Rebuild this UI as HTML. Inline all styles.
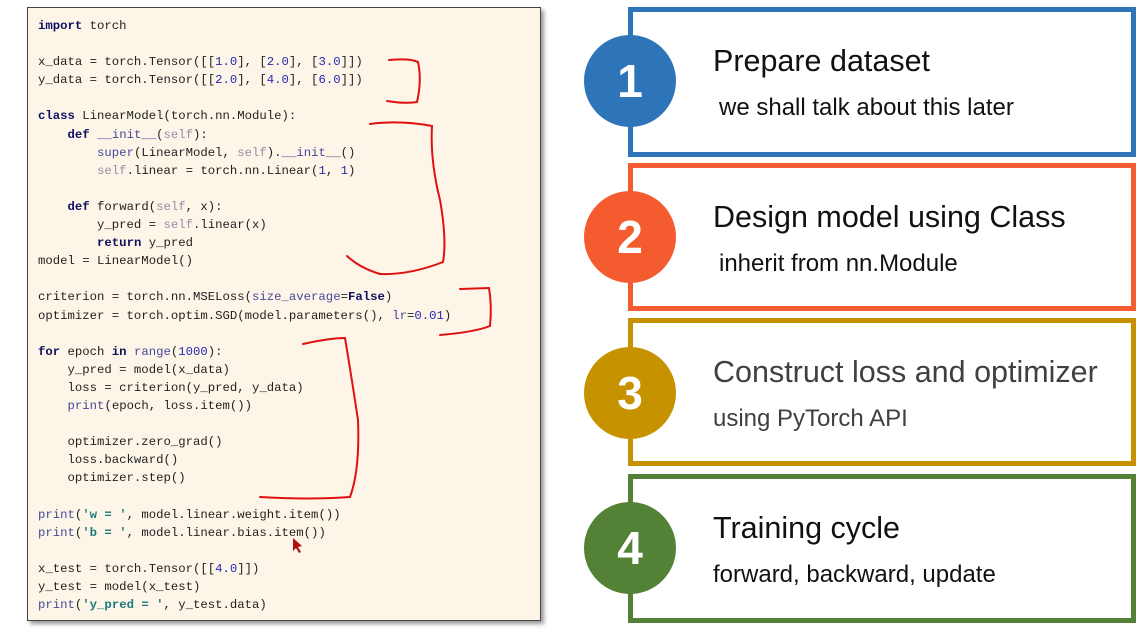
<!DOCTYPE html>
<html><head><meta charset="utf-8"><style>
body{margin:0;width:1147px;height:632px;background:#fff;position:relative;overflow:hidden;font-family:"Liberation Sans","DejaVu Sans",sans-serif}
.code{position:absolute;left:27px;top:7px;width:512px;height:612px;background:#fdf6e8;border:1.5px solid #444;box-shadow:3px 3px 4px #999}
pre{position:absolute;left:10px;top:9px;margin:0;font-family:"Liberation Mono","Noto Sans CJK SC",monospace;font-size:12.3px;line-height:18.1px;color:#222}
.k{color:#101060;font-weight:bold}.n{color:#2828b0}.s{color:#9a8aa8}.b{color:#484898}.t{color:#1a7a7a;font-weight:bold}
.box{position:absolute;left:628px;width:498px;border:5px solid}
.c{position:absolute;left:584px;width:92px;height:92px;border-radius:50%;color:#fff;font-size:46px;font-weight:bold;text-align:center;line-height:92px}
.h{position:absolute;left:713px;font-size:30.5px;color:#111;white-space:nowrap}
.sub{position:absolute;font-size:24px;color:#111;white-space:nowrap}
</style></head><body>
<div class="code"><pre><span class="k">import</span> torch

x_data = torch.Tensor([[<span class="n">1.0</span>], [<span class="n">2.0</span>], [<span class="n">3.0</span>]])
y_data = torch.Tensor([[<span class="n">2.0</span>], [<span class="n">4.0</span>], [<span class="n">6.0</span>]])

<span class="k">class</span> LinearModel(torch.nn.Module):
    <span class="k">def</span> <span class="b">__init__</span>(<span class="s">self</span>):
        <span class="b">super</span>(LinearModel, <span class="s">self</span>).<span class="b">__init__</span>()
        <span class="s">self</span>.linear = torch.nn.Linear(<span class="n">1</span>, <span class="n">1</span>)

    <span class="k">def</span> forward(<span class="s">self</span>, x):
        y_pred = <span class="s">self</span>.linear(x)
        <span class="k">return</span> y_pred
model = LinearModel()

criterion = torch.nn.MSELoss(<span class="b">size_average</span>=<span class="k">False</span>)
optimizer = torch.optim.SGD(model.parameters(), <span class="b">lr</span>=<span class="n">0.01</span>)

<span class="k">for</span> epoch <span class="k">in</span> <span class="b">range</span>(<span class="n">1000</span>):
    y_pred = model(x_data)
    loss = criterion(y_pred, y_data)
    <span class="b">print</span>(epoch, loss.item())

    optimizer.zero_grad()
    loss.backward()
    optimizer.step()

<span class="b">print</span>(<span class="t">'w = '</span>, model.linear.weight.item())
<span class="b">print</span>(<span class="t">'b = '</span>, model.linear.bias.item())

x_test = torch.Tensor([[<span class="n">4.0</span>]])
y_test = model(x_test)
<span class="b">print</span>(<span class="t">'y_pred = '</span>, y_test.data)</pre></div>
<svg style="position:absolute;left:0;top:0" width="1147" height="632">
<g fill="none" stroke="#e01010" stroke-width="2" stroke-linecap="round">
<path d="M389 60 Q410 58 418 62 Q422 80 417 102 Q405 104 387 101"/>
<path d="M370 124 Q400 120 432 126 Q430 160 440 200 Q447 240 443 262 Q410 275 380 274 Q360 268 347 256"/>
<path d="M460 289 L489 288 Q492 305 490 326 Q475 332 440 335"/>
<path d="M303 344 Q330 338 345 338 Q352 380 358 420 Q360 470 350 497 Q310 500 260 497"/>
</g>
<path d="M293 538 L293 551 L296 548 L299 553 L301 552 L298 547 L302 546 Z" fill="#b01010"/>
</svg>
<div class="box" style="top:7px;height:140px;border-color:#2e74b8"></div>
<div class="box" style="top:163px;height:138px;border-color:#f45b2e"></div>
<div class="box" style="top:318px;height:138px;border-color:#c79200"></div>
<div class="box" style="top:474px;height:139px;border-color:#538135"></div>
<div class="c" style="top:35px;background:#2e74b8">1</div>
<div class="c" style="top:191px;background:#f45b2e">2</div>
<div class="c" style="top:347px;background:#c79200">3</div>
<div class="c" style="top:502px;background:#538135">4</div>
<div class="h" style="top:44px">Prepare dataset</div>
<div class="sub" style="left:719px;top:94px">we shall talk about this later</div>
<div class="h" style="top:200px">Design model using Class</div>
<div class="sub" style="left:719px;top:250px">inherit from nn.Module</div>
<div class="h" style="top:355px;color:#404040">Construct loss and optimizer</div>
<div class="sub" style="left:713px;top:405px;color:#404040">using PyTorch API</div>
<div class="h" style="top:511px">Training cycle</div>
<div class="sub" style="left:713px;top:561px">forward, backward, update</div>
</body></html>
